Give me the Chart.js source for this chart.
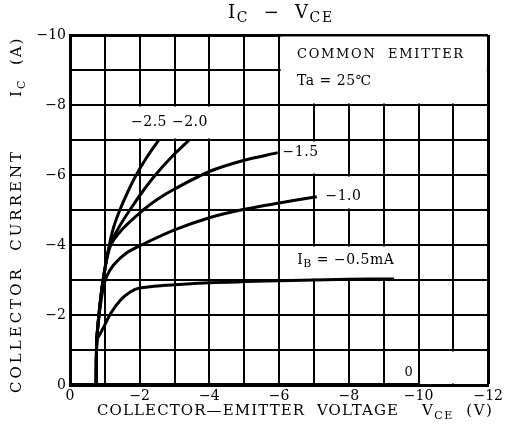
<!DOCTYPE html>
<html>
<head>
<meta charset="utf-8">
<script src="https://cdn.jsdelivr.net/npm/chart.js@4"></script>
<style>
  html, body { margin: 0; padding: 0; background: #fff; }
</style>
</head>
<body>
<canvas id="chart" width="506" height="432"></canvas>
<script>
// collector current IC (A) vs collector-emitter voltage VCE (V), one curve per base current IB
const ib25V = [-0.75, -0.77, -0.85, -0.95, -1.12, -1.25, -1.43, -1.65, -1.9, -2.2, -2.55];
const ib25I = [0, -1.3, -2.2, -3.0, -3.95, -4.5, -5.0, -5.5, -6.0, -6.5, -7.0];

const ib20V = [-0.75, -0.77, -0.85, -0.95, -1.13, -1.4, -1.75, -2.1, -2.45, -2.9, -3.42];
const ib20I = [0, -1.3, -2.2, -3.0, -3.95, -4.5, -5.05, -5.55, -6.0, -6.5, -7.0];

const ib15V = [-0.75, -0.77, -0.85, -0.95, -1.15, -1.5, -2.1, -2.5, -3.0, -4.0, -5.0, -5.96];
const ib15I = [0, -1.3, -2.2, -3.0, -3.95, -4.45, -5.0, -5.3, -5.6, -6.1, -6.42, -6.64];

const ib10V = [-0.75, -0.77, -0.85, -0.95, -1.05, -1.25, -1.62, -2.05, -3.0, -4.0, -5.0, -6.0, -7.08];
const ib10I = [0, -1.3, -2.1, -2.75, -3.1, -3.43, -3.77, -4.0, -4.43, -4.78, -5.02, -5.2, -5.38];

const ib05V = [-0.75, -0.77, -0.83, -0.97, -1.17, -1.45, -1.73, -2.0, -2.66, -4.0, -6.0, -8.0, -9.3];
const ib05I = [0, -1.3, -1.4, -1.66, -2.05, -2.43, -2.66, -2.77, -2.84, -2.92, -2.98, -3.02, -3.03];

const ib00V = [0, -10];
const ib00I = [0, 0];

const xTickValues = [0, -2, -4, -6, -8, -10, -12];
const xTickLabels = ["0", "\u22122", "\u22124", "\u22126", "\u22128", "\u221210", "\u221212"];
const yTickValues = [0, -2, -4, -6, -8, -10];
const yTickLabels = ["0", "\u22122", "\u22124", "\u22126", "\u22128", "\u221210"];

const curveNames = ["\u22122.5 \u22122.0", "\u22121.5", "\u22121.0", "\u22120.5mA", "0"];

const FONT = '"DejaVu Serif", serif';

const toPoints = (vs, is) => vs.map((v, i) => ({ x: v, y: is[i] }));

const curve = (vs, is, width) => ({
  data: toPoints(vs, is),
  showLine: true,
  borderColor: "#000",
  borderWidth: width,
  pointRadius: 0,
  tension: 0.3,
  fill: false,
});

// draws text with subscript parts: [[text, isSub], ...]
function drawRich(ctx, parts, x, y, size, spacing) {
  let cx = x;
  parts.forEach(([t, sub]) => {
    const s = sub ? Math.round(size * 0.75) : size;
    ctx.font = s + "px " + FONT;
    ctx.letterSpacing = spacing + "px";
    ctx.fillText(t, cx, sub ? y + size * 0.32 : y);
    cx += ctx.measureText(t).width;
  });
}

const annotate = {
  id: "annotate",
  beforeDatasetsDraw(chart) {
    const { ctx, scales: { x, y } } = chart;
    // blank cells behind the labels
    const boxes = [
      [-6, -12, -10, -8],
      [-1, -5, -8, -7],
      [-6, -8, -7, -6],
      [-7, -9, -6, -5],
      [-6, -10, -4, -3],
      [-10, -12, -1, 0],
    ];
    ctx.save();
    ctx.fillStyle = "#fff";
    boxes.forEach(([v1, v2, i1, i2]) => {
      const l = x.getPixelForValue(v1) + 1.5;
      const r = x.getPixelForValue(v2) - 1.5;
      const t = y.getPixelForValue(i1) + 1.5;
      const b = y.getPixelForValue(i2) - 1.5;
      ctx.fillRect(l, t, r - l, b - t);
    });
    ctx.restore();
  },
  afterDraw(chart) {
    const { ctx, scales: { x, y } } = chart;
    ctx.save();
    ctx.fillStyle = "#000";
    ctx.textBaseline = "middle";
    ctx.textAlign = "left";

    // curve labels
    drawRich(ctx, [[curveNames[0], 0]], x.getPixelForValue(-1.75), y.getPixelForValue(-7.5), 14, 0.5);
    drawRich(ctx, [[curveNames[1], 0]], x.getPixelForValue(-6.1), y.getPixelForValue(-6.66), 14, 0.5);
    drawRich(ctx, [[curveNames[2], 0]], x.getPixelForValue(-7.33), y.getPixelForValue(-5.4), 14, 0.5);
    drawRich(ctx, [["I", 0], ["B", 1], [" = " + curveNames[3], 0]], x.getPixelForValue(-6.52), y.getPixelForValue(-3.57), 14, 0.5);
    drawRich(ctx, [[curveNames[4], 0]], x.getPixelForValue(-9.6), y.getPixelForValue(-0.34), 13, 0);

    // conditions
    drawRich(ctx, [["COMMON  EMITTER", 0]], 297, 55, 13, 1.7);
    drawRich(ctx, [["Ta = 25\u2103", 0]], 297, 81, 14, 0.5);

    // title
    drawRich(ctx, [["I", 0], ["C", 1], ["  \u2212  ", 0], ["V", 0], ["CE", 1]], 228, 13, 18, 1.6);

    // x axis title
    drawRich(ctx, [["COLLECTOR\u2014EMITTER  VOLTAGE", 0]], 97, 411, 15, 1.1);
    drawRich(ctx, [["V", 0], ["CE", 1], ["  (V)", 0]], 422, 411, 15, 1.5);

    // y axis title
    ctx.translate(17, 393);
    ctx.rotate(-Math.PI / 2);
    drawRich(ctx, [["COLLECTOR  CURRENT", 0]], 0, 0, 15, 3);
    drawRich(ctx, [["I", 0], ["C", 1], ["  (A)", 0]], 296, 0, 15, 2);
    ctx.restore();
  },
};

// outer frame lines a bit heavier than the inner grid
const xGridWidth = (c) => (c.tick && c.tick.value === -12 ? 3 : 2);
const yGridWidth = (c) => (c.tick && c.tick.value === -10 ? 3 : 2);

new Chart(document.getElementById("chart"), {
  type: "scatter",
  data: {
    datasets: [
      curve(ib25V, ib25I, 3),
      curve(ib20V, ib20I, 3),
      curve(ib15V, ib15I, 3),
      curve(ib10V, ib10I, 3),
      curve(ib05V, ib05I, 3),
      curve(ib00V, ib00I, 4),
    ],
  },
  options: {
    responsive: false,
    animation: false,
    layout: { padding: { top: 35, right: 8, left: 0, bottom: 0 } },
    plugins: { legend: { display: false }, tooltip: { enabled: false } },
    scales: {
      x: {
        type: "linear",
        min: -12,
        max: 0,
        reverse: true,
        afterFit: (s) => { s.height = 47; },
        ticks: {
          stepSize: 1,
          autoSkip: false,
          maxRotation: 0,
          padding: 3,
          color: "#000",
          font: { family: FONT, size: 14 },
          callback: (v) => {
            const i = xTickValues.indexOf(v);
            return i >= 0 ? xTickLabels[i] : "";
          },
        },
        grid: { color: "#000", lineWidth: xGridWidth, drawTicks: false },
        border: { color: "#000", width: 3 },
      },
      y: {
        type: "linear",
        min: -10,
        max: 0,
        reverse: true,
        afterFit: (s) => { s.width = 70; },
        ticks: {
          stepSize: 1,
          autoSkip: false,
          padding: 4,
          color: "#000",
          font: { family: FONT, size: 14 },
          callback: (v) => {
            const i = yTickValues.indexOf(v);
            return i >= 0 ? yTickLabels[i] : "";
          },
        },
        grid: { color: "#000", lineWidth: yGridWidth, drawTicks: false },
        border: { color: "#000", width: 3 },
      },
    },
  },
  plugins: [annotate],
});
</script>
</body>
</html>
